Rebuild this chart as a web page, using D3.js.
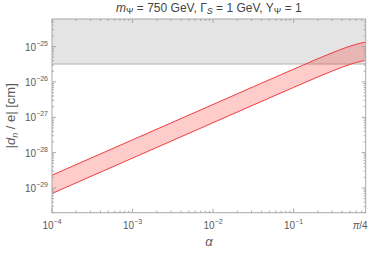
<!DOCTYPE html>
<html>
<head>
<meta charset="utf-8">
<script src="https://cdn.jsdelivr.net/npm/d3@7"></script>
<style>
  body { margin: 0; background: #fff; }
  text { font-family: "Liberation Sans", Arial, sans-serif; }
</style>
</head>
<body>
<div id="chart"></div>
<script>
// values
const alphaVals = [1e-4, 1e-3, 1e-2, 0.1, 0.2, 0.3, 0.4, 0.5, 0.6, 0.7, Math.PI / 4];
const upperVals = [2.3e-29, 2.3e-28, 2.3e-27, 2.29e-26, 4.52e-26, 6.62e-26, 8.56e-26, 1.02e-25, 1.16e-25, 1.27e-25, 1.33e-25];
const lowerVals = [7.0e-30, 7.0e-29, 7.0e-28, 6.98e-27, 1.38e-26, 2.02e-26, 2.61e-26, 3.11e-26, 3.54e-26, 3.87e-26, 4.06e-26];
const excluded = 3.2e-26; // gray region: bound on |d_n|
const xTicks = [1e-4, 1e-3, 1e-2, 1e-1];
const xTickLabels = ["-4", "-3", "-2", "-1"];
const yTicks = [1e-29, 1e-28, 1e-27, 1e-26, 1e-25];
const yTickLabels = ["-29", "-28", "-27", "-26", "-25"];

const width = 375, height = 254;
const margin = {top: 19, right: 9.3, bottom: 41.3, left: 52};
const iw = width - margin.left - margin.right;
const ih = height - margin.top - margin.bottom;

const svg = d3.select("#chart").append("svg")
  .attr("width", width)
  .attr("height", height);

const x = d3.scaleLog().domain([1e-4, Math.PI / 4]).range([0, iw]);
const y = d3.scaleLog().domain([2e-30, 6e-25]).range([ih, 0]);

const g = svg.append("g")
  .attr("transform", `translate(${margin.left},${margin.top})`);

g.append("defs").append("clipPath").attr("id", "clip")
  .append("rect").attr("width", iw).attr("height", ih);

const plot = g.append("g").attr("clip-path", "url(#clip)");

// excluded region
plot.append("rect")
  .attr("x", 0)
  .attr("y", 0)
  .attr("width", iw)
  .attr("height", y(excluded))
  .attr("fill", "#e4e4e4");
plot.append("line")
  .attr("x1", 0).attr("x2", iw)
  .attr("y1", y(excluded)).attr("y2", y(excluded))
  .attr("stroke", "#b4b4b4")
  .attr("stroke-width", 1);

const band = alphaVals.map((a, i) => ({a: a, hi: upperVals[i], lo: lowerVals[i]}));

plot.append("path")
  .datum(band)
  .attr("fill", "rgba(255,0,0,0.2)")
  .attr("d", d3.area()
    .x(d => x(d.a))
    .y0(d => y(d.lo))
    .y1(d => y(d.hi))
    .curve(d3.curveMonotoneX));

["hi", "lo"].forEach(k => {
  plot.append("path")
    .datum(band)
    .attr("fill", "none")
    .attr("stroke", "#f03c3c")
    .attr("stroke-width", 1)
    .attr("d", d3.line()
      .x(d => x(d.a))
      .y(d => y(d[k]))
      .curve(d3.curveMonotoneX));
});

// frame
g.append("rect")
  .attr("width", iw)
  .attr("height", ih)
  .attr("fill", "none")
  .attr("stroke", "#a8a8a8")
  .attr("stroke-width", 1);

// ticks (inside, on all four sides)
const tickCol = "#a8a8a8";
const xMinor = [];
for (let e = -4; e <= -1; e++) for (let m = 1; m <= 9; m++) {
  const v = m * Math.pow(10, e);
  if (v <= Math.PI / 4) xMinor.push(v);
}
const yMinor = [];
for (let e = -30; e <= -25; e++) for (let m = 1; m <= 9; m++) {
  const v = m * Math.pow(10, e);
  if (v >= 2e-30 && v <= 6e-25) yMinor.push(v);
}
xMinor.forEach(v => {
  const major = xTicks.includes(v);
  const len = major ? 4 : 2;
  g.append("line").attr("x1", x(v)).attr("x2", x(v)).attr("y1", ih).attr("y2", ih - len).attr("stroke", tickCol);
  g.append("line").attr("x1", x(v)).attr("x2", x(v)).attr("y1", 0).attr("y2", len).attr("stroke", tickCol);
});
yMinor.forEach(v => {
  const major = yTicks.some(t => Math.abs(t - v) / t < 1e-6);
  const len = major ? 4 : 2;
  g.append("line").attr("y1", y(v)).attr("y2", y(v)).attr("x1", 0).attr("x2", len).attr("stroke", tickCol);
  g.append("line").attr("y1", y(v)).attr("y2", y(v)).attr("x1", iw).attr("x2", iw - len).attr("stroke", tickCol);
});

// tick labels
const labCol = "#5a5a5a";
xTicks.forEach((t, i) => {
  const tx = g.append("text")
    .attr("x", x(t))
    .attr("y", ih + 16)
    .attr("text-anchor", "middle")
    .attr("font-size", "10px")
    .attr("fill", labCol);
  tx.append("tspan").text("10");
  tx.append("tspan").attr("dy", -5).attr("font-size", "7px").text("\u2212" + xTickLabels[i].slice(1));
});
const piLab = g.append("text")
  .attr("x", iw + 2)
  .attr("y", ih + 16)
  .attr("text-anchor", "end")
  .attr("font-size", "10px")
  .attr("fill", labCol);
piLab.append("tspan").attr("font-style", "italic").text("\u03c0");
piLab.append("tspan").text("/4");

yTicks.forEach((t, i) => {
  const ty = g.append("text")
    .attr("x", -4)
    .attr("y", y(t) + 4)
    .attr("text-anchor", "end")
    .attr("font-size", "10px")
    .attr("fill", labCol);
  ty.append("tspan").text("10");
  ty.append("tspan").attr("dy", -5).attr("font-size", "7px").text("\u2212" + yTickLabels[i].slice(1));
});

// axis labels
svg.append("text")
  .attr("x", margin.left + iw / 2)
  .attr("y", 246)
  .attr("text-anchor", "middle")
  .attr("font-size", "13px")
  .attr("font-style", "italic")
  .attr("fill", labCol)
  .text("\u03b1");

const yl = svg.append("text")
  .attr("transform", `translate(15,${margin.top + ih / 2}) rotate(-90)`)
  .attr("text-anchor", "middle")
  .attr("font-size", "13px")
  .attr("fill", labCol);
yl.append("tspan").text("|");
yl.append("tspan").attr("font-style", "italic").text("d");
yl.append("tspan").attr("font-style", "italic").attr("font-size", "9px").attr("dy", 3).text("n");
yl.append("tspan").attr("dy", -3).text(" / e| [cm]");

// title
const title = svg.append("text")
  .attr("x", margin.left + iw / 2)
  .attr("y", 12)
  .attr("text-anchor", "middle")
  .attr("font-size", "12px")
  .attr("fill", "#444");
title.append("tspan").attr("font-style", "italic").text("m");
title.append("tspan").attr("font-size", "9px").attr("dy", 2).text("\u03a8");
title.append("tspan").attr("dy", -2).text(" = 750 GeV, \u0393");
title.append("tspan").attr("font-size", "9px").attr("font-style", "italic").attr("dy", 2).text("S");
title.append("tspan").attr("dy", -2).text(" = 1 GeV, Y");
title.append("tspan").attr("font-size", "9px").attr("dy", 2).text("\u03a8");
title.append("tspan").attr("dy", -2).text(" = 1");
</script>
</body>
</html>
